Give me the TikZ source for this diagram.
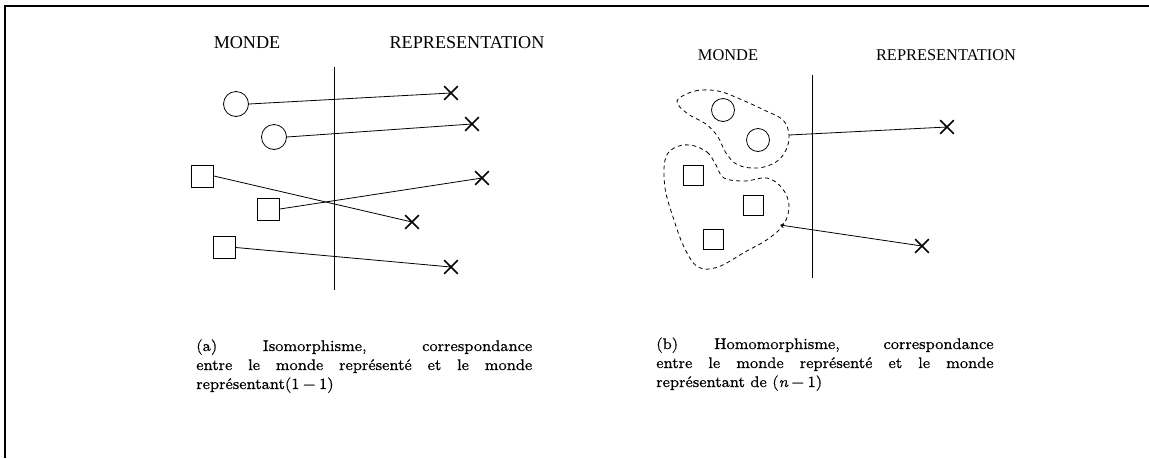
\documentclass[tikz,border=0pt]{standalone}
\usepackage{fontspec}
\newfontfamily\labelfont{Liberation Serif}
\newfontfamily\capfont{lmroman8-regular}[Extension=.otf,FakeBold=0.5]
\newfontfamily\capitfont{lmroman8-italic}[Extension=.otf,FakeBold=0.5]
\newcommand{\binsp}{\hspace{0.22em}}
\usetikzlibrary{shapes.misc,arrows.meta}
\begin{document}
\begin{tikzpicture}[x=0.75pt,y=-0.75pt,
  frame/.style={line width=1.6pt},
  link/.style={line width=0.6pt},
  divider/.style={line width=0.7pt},
  worldcirc/.style={circle,draw,line width=0.6pt,minimum size=#1,inner sep=0pt},
  worldsq/.style={rectangle,draw,line width=0.6pt,minimum size=#1,inner sep=0pt},
  repmark/.style={cross out,draw,line width=1.2pt,minimum size=9pt,inner sep=0pt},
  blob/.style={dash pattern=on 3pt off 2.5pt,line width=0.6pt},
  headA/.style={font=\labelfont\fontsize{13.6}{16}\selectfont,inner sep=0pt},
  headB/.style={font=\labelfont\fontsize{12.3}{15}\selectfont,inner sep=0pt},
  capline/.style={anchor=base west,inner sep=0pt,
    font=\capfont\fontsize{11.6}{14}\selectfont}
]
\useasboundingbox (0,0) rectangle (1149,458);
% page frame
\draw[frame] (5,458) -- (5,6) -- (1149,6);

% ---------- (a) isomorphism ----------
\node[headA] (mondeA) at (247,43) {MONDE};
\node[headA] (repA) at (467,43) {REPRESENTATION};
\coordinate (divAtop) at (334,67);
\coordinate (divAbot) at (334,290);
\draw[divider] (divAtop) -- (divAbot);

\node[worldcirc=18.75pt] (ca1) at (236,104) {};
\node[worldcirc=18.75pt] (ca2) at (274,137) {};
\node[worldsq=16.5pt] (sa1) at (202.5,176) {};
\node[worldsq=16.5pt] (sa2) at (268.5,209) {};
\node[worldsq=16.5pt] (sa3) at (224.5,247.5) {};

\node[repmark] (xa1) at (451,93) {};
\node[repmark] (xa2) at (472,124) {};
\node[repmark] (xa3) at (482,178) {};
\node[repmark] (xa4) at (412,222) {};
\node[repmark] (xa5) at (451,267) {};

\draw[link] (ca1.east) -- (xa1.center);
\draw[link] (ca2.east) -- (xa2.center);
\draw[link] (sa1.east) -- (xa4.center);
\draw[link] (sa2.east) -- (xa3.center);
\draw[link] (sa3.east) -- (xa5.center);

\node[capline] (capA1) at (196,351) {\makebox[252pt][s]{(a) Isomorphisme, correspondance}};
\node[capline] (capA2) at (196,370) {\makebox[252pt][s]{entre le monde représenté et le monde}};
\node[capline] (capA3) at (196,389) {représentant(1\binsp−\binsp1)};

% ---------- (b) homomorphism ----------
\node[headB] (mondeB) at (728,55) {MONDE};
\node[headB] (repB) at (946,55) {REPRESENTATION};
\coordinate (divBtop) at (812,75);
\coordinate (divBbot) at (812,278);
\draw[divider] (divBtop) -- (divBbot);

\node[worldcirc=17.25pt] (cb1) at (723,110) {};
\node[worldcirc=17.25pt] (cb2) at (758,140) {};
\node[worldsq=15pt] (sb1) at (693,175) {};
\node[worldsq=15pt] (sb2) at (753,205) {};
\node[worldsq=15pt] (sb3) at (713,239) {};

% dashed groupings
\draw[blob] plot[smooth cycle,tension=0.6] coordinates {
  (677,101) (695,91) (718,91) (740,99) (764,110) (783,120) (789,135)
  (786,150) (776,162) (758,168) (738,165) (726,153) (718,137) (706,124)
  (688,114)};
\draw[blob] plot[smooth cycle,tension=0.6] coordinates {
  (690,145) (707,152) (716,165) (724,178) (745,181) (767,178) (782,188)
  (789,205) (784,224) (768,239) (745,252) (718,267) (698,267) (684,247)
  (673,217) (665,188) (665,160) (674,148)};

\coordinate (gb1) at (789,135);
\coordinate (gb2) at (780,225);
\node[repmark] (xb1) at (947,127) {};
\node[repmark] (xb2) at (922,246) {};

\draw[link] (gb1) -- (xb1.center);
\draw[link,{Straight Barb[length=2.2pt,width=3pt]}-] (gb2) -- (xb2.center);

\node[capline] (capB1) at (656,349) {\makebox[253pt][s]{(b) Homomorphisme, correspondance}};
\node[capline] (capB2) at (656,368) {\makebox[253pt][s]{entre le monde représenté et le monde}};
\node[capline] (capB3) at (656,387) {représentant de ({\capitfont n}\binsp−\binsp1)};
\end{tikzpicture}
\end{document}
